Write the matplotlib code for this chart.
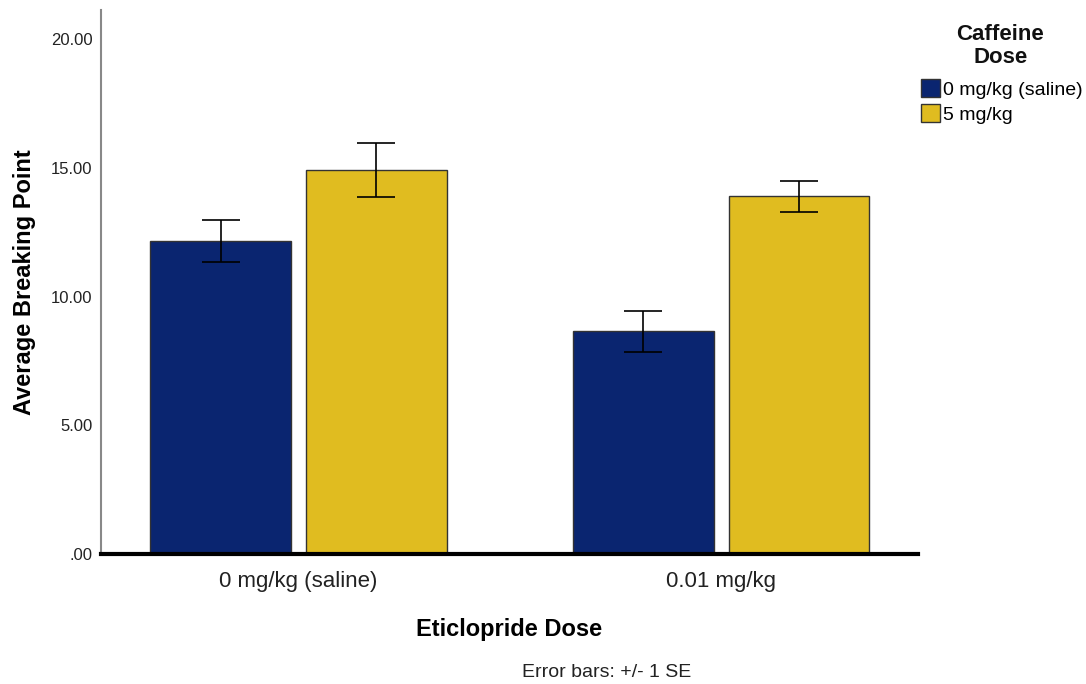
import matplotlib.pyplot as plt
import numpy as np

# data
groups = ["0 mg/kg (saline)", "0.01 mg/kg"]
series = ["0 mg/kg (saline)", "5 mg/kg"]
means_saline = [12.16, 8.66]
means_caffeine = [14.91, 13.90]
se_saline = [0.81, 0.80]
se_caffeine = [1.05, 0.60]
yticks = [0, 5, 10, 15, 20]
ytick_labels = [".00", "5.00", "10.00", "15.00", "20.00"]

plt.rcParams['font.family'] = ['Liberation Sans', 'DejaVu Sans']

fig = plt.figure(figsize=(10.86, 6.84), dpi=100)
ax = fig.add_axes([0.093, 0.19, 0.752, 0.795])

x = np.arange(len(groups))
width = 0.333
offset = 0.184
colors = ["#0a2570", "#e0bc20"]
err_kw = dict(ecolor="black", elinewidth=1.2, capsize=14, capthick=1.2)

b1 = ax.bar(x - offset, means_saline, width, yerr=se_saline, color=colors[0],
            edgecolor="#333333", linewidth=1, error_kw=err_kw, label=series[0], zorder=2)
b2 = ax.bar(x + offset, means_caffeine, width, yerr=se_caffeine, color=colors[1],
            edgecolor="#333333", linewidth=1, error_kw=err_kw, label=series[1], zorder=2)

ax.set_xlim(-0.467, 1.465)
ax.set_ylim(0, 21.13)
ax.set_yticks(yticks)
ax.set_yticklabels(ytick_labels, fontsize=12, color="#222222")
ax.set_xticks(x)
ax.set_xticklabels(groups, fontsize=16, color="#222222")
ax.tick_params(axis="both", length=0)
ax.tick_params(axis="y", pad=6)
ax.tick_params(axis="x", pad=12)

for s in ["top", "right"]:
    ax.spines[s].set_visible(False)
ax.spines["left"].set_color("#888888")
ax.spines["left"].set_linewidth(1.5)
ax.spines["bottom"].set_visible(False)
ax.axhline(0, color="black", lw=3, zorder=3, clip_on=False)

ax.set_xlabel("Eticlopride Dose", fontsize=17, fontweight="bold", labelpad=19)
ax.set_ylabel("Average Breaking Point", fontsize=17, fontweight="bold", labelpad=11)

# legend title drawn as text, legend items below it
fig.text(0.921, 0.933, "Caffeine\nDose", ha="center", va="center", fontsize=16,
         fontweight="bold", multialignment="center", linespacing=1.15, color="#111111")
fig.legend(handles=[b1, b2], labels=series, loc="upper left",
           bbox_to_anchor=(0.848, 0.884), frameon=False, fontsize=14,
           handlelength=1.0, handleheight=1.0, handletextpad=0.15,
           labelspacing=0.29, borderpad=0, borderaxespad=0)

fig.text(0.559, 0.005, "Error bars: +/- 1 SE", ha="center", va="bottom", fontsize=14, color="#222222")

plt.savefig("out.png", dpi=100)
